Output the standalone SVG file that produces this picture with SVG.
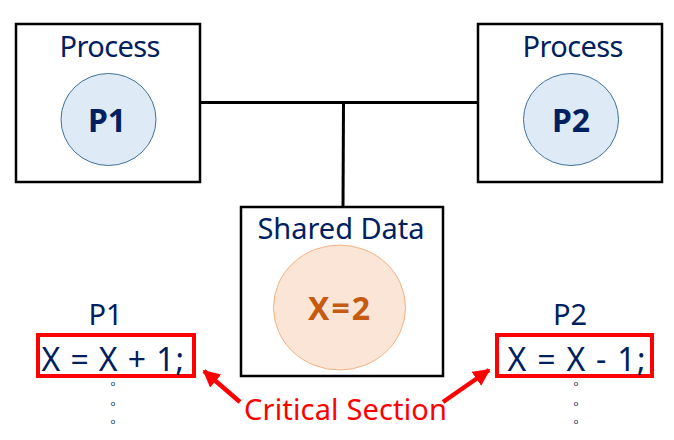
<svg xmlns="http://www.w3.org/2000/svg" width="674" height="440" viewBox="0 0 674 440">
<defs>
<style>
.box{fill:#fff;stroke:#000;stroke-width:2.5}
.pc{fill:#DEEBF7;stroke:#41719C;stroke-width:1}
.xc{fill:#FBE5D6;stroke:#F4B183;stroke-width:1}
.t{font-family:"Noto Sans","Liberation Sans",sans-serif;fill:#002060}
.lbl{font-size:29px}
.pb{font-size:32px;font-weight:bold}
.code{font-size:32px}
.dot{font-family:"Liberation Sans",sans-serif;font-size:8px;fill:#002060}
.red{fill:none;stroke:#FF0000;stroke-width:4}
.crit{font-family:"Noto Sans","Liberation Sans",sans-serif;font-size:29px;fill:#FF0000}
.arr{stroke:#FF0000;stroke-width:4.5;fill:none}
</style>
<marker id="ah" viewBox="0 0 10 10" refX="9" refY="5" markerWidth="3.8" markerHeight="3.8" orient="auto" markerUnits="strokeWidth">
<path d="M0,0 L10,5 L0,10 z" fill="#FF0000"/>
</marker>
</defs>
<g id="connectors">
<line x1="199" y1="102.5" x2="478" y2="102.5" stroke="#000" stroke-width="3"/>
<line x1="343.5" y1="102.5" x2="343" y2="208" stroke="#000" stroke-width="3"/>
</g>
<g id="process1">
<rect class="box" x="16" y="24" width="184" height="158"/>
<text class="t lbl" x="110" y="57" text-anchor="middle" textLength="101">Process</text>
<ellipse class="pc" cx="108.5" cy="119.5" rx="47.5" ry="46"/>
<text class="t pb" x="107" y="132" text-anchor="middle">P1</text>
</g>
<g id="process2">
<rect class="box" x="478" y="24" width="184" height="158"/>
<text class="t lbl" x="573" y="57" text-anchor="middle" textLength="101">Process</text>
<ellipse class="pc" cx="571" cy="119.5" rx="47.5" ry="46"/>
<text class="t pb" x="571" y="132" text-anchor="middle">P2</text>
</g>
<g id="shared">
<rect class="box" x="241" y="207" width="202" height="169"/>
<text class="t lbl" x="341" y="239" text-anchor="middle" textLength="167">Shared Data</text>
<ellipse class="xc" cx="339.5" cy="307.5" rx="66" ry="62.5"/>
<text class="t pb" x="339" y="320" text-anchor="middle" style="fill:#C55A11" textLength="62">X=2</text>
</g>
<g id="code1">
<text class="t lbl" x="105.5" y="325" text-anchor="middle">P1</text>
<rect class="red" x="38" y="335" width="156" height="41"/>
<text class="t code" x="41.5" y="371" textLength="142.5">X = X + 1;</text>
<text class="dot" x="113" y="385.5" text-anchor="middle">o</text>
<text class="dot" x="113" y="405.5" text-anchor="middle">o</text>
<text class="dot" x="113" y="424" text-anchor="middle">o</text>
</g>
<g id="code2">
<text class="t lbl" x="570" y="325" text-anchor="middle">P2</text>
<rect class="red" x="497" y="335" width="155" height="41"/>
<text class="t code" x="507.5" y="371" textLength="138">X = X - 1;</text>
<text class="dot" x="576" y="385.5" text-anchor="middle">o</text>
<text class="dot" x="576" y="405.5" text-anchor="middle">o</text>
<text class="dot" x="576" y="424" text-anchor="middle">o</text>
</g>
<g id="critical">
<text class="crit" x="345.5" y="420" text-anchor="middle" textLength="203">Critical Section</text>
<line class="arr" x1="240" y1="402" x2="204" y2="371" marker-end="url(#ah)"/>
<line class="arr" x1="443" y1="402" x2="489" y2="370" marker-end="url(#ah)"/>
</g>
</svg>
